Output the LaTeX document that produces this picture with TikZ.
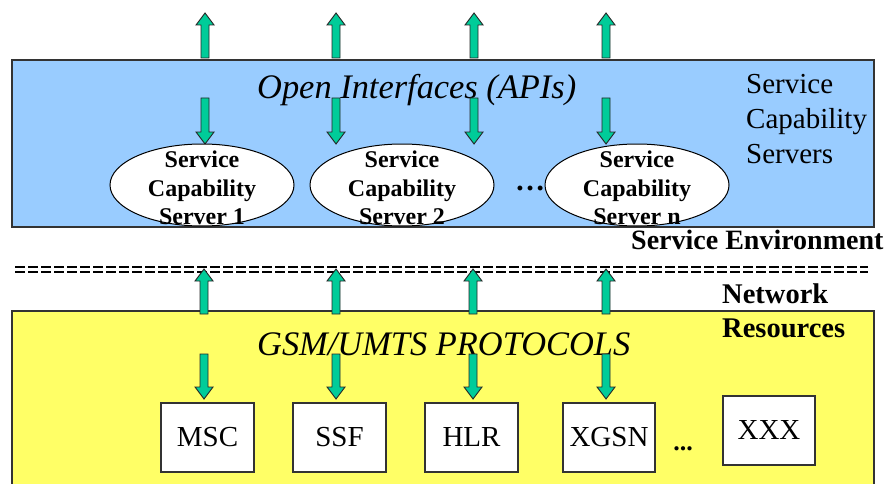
\documentclass[tikz,border=0pt]{standalone}
\usepackage{fontspec}
\setmainfont{Liberation Serif}
\usetikzlibrary{shapes.geometric}
\definecolor{apiblue}{HTML}{99CCFF}
\definecolor{netyellow}{HTML}{FFFF66}
\definecolor{arrgreen}{HTML}{00CC99}
\newcommand\bigarrow[3]{%
  \pgfmathsetmacro\hd{#3>#2 ? #3-12 : #3+12}%
  \filldraw[fatarrow] (#1-4,#2) -- (#1-4,\hd) -- (#1-9,\hd) -- (#1,#3) -- (#1+9,\hd) -- (#1+4,\hd) -- (#1+4,#2) -- cycle;}
\tikzset{
  fatarrow/.style={fill=arrgreen, draw=black!85, line width=0.9pt, line join=miter},
  layerbox/.style={draw=black!80, line width=1.4pt},
  srvell/.style={ellipse, draw=black, line width=1pt, fill=white, minimum width=184pt, minimum height=82pt, inner sep=0pt},
  srvtext/.style={align=center, font=\fontsize{24}{28.5}\selectfont\bfseries, inner sep=0pt},
  nebox/.style={draw=black!80, line width=1.2pt, fill=white, minimum width=93pt, minimum height=69pt, inner sep=0pt, font=\fontsize{29}{32}\selectfont},
  dashrow/.style={line width=2pt, dash pattern=on 10pt off 3pt},
  lbl/.style={inner sep=0pt, anchor=base west},
}
\begin{document}
\begin{tikzpicture}[x=1pt, y=-1pt]
\useasboundingbox (0,0) rectangle (896,484);
\clip (0,0) rectangle (896,484);
\fill[white] (0,0) rectangle (896,484);

% service layer
\draw[layerbox, fill=apiblue] (12,60) rectangle (874,227);
\node[lbl, font=\fontsize{34.4}{38}\selectfont\itshape] (api) at (257,99) {Open Interfaces (APIs)};
\node[lbl, align=left, font=\fontsize{29}{35}\selectfont] (scs) at (746,163) {Service\\Capability\\Servers};

\foreach \x in {205,336,474,606} {\bigarrow{\x}{58}{13}}
\foreach \x in {205,336,474,606} {\bigarrow{\x}{98}{144}}

\node[srvell] (e1) at (202,185) {};
\node[srvell] (e2) at (402,185) {};
\node[srvell] (en) at (637,185) {};
\node[srvtext] (t1) at (202,188) {Service\\Capability\\Server 1};
\node[srvtext] (t2) at (402,188) {Service\\Capability\\Server 2};
\node[srvtext] (tn) at (637,188) {Service\\Capability\\Server n};
\node[inner sep=0pt, font=\fontsize{30}{34}\selectfont\bfseries] (dots1) at (530,188) {\ldots};

\node[lbl, font=\fontsize{28}{32}\selectfont\bfseries] (senv) at (631,249) {Service Environment};

% separator
\draw[dashrow] (15,267) -- (868,267);
\draw[dashrow] (15,272) -- (868,272);

% network layer
\draw[layerbox, fill=netyellow] (12,311) rectangle (874,500);
\node[lbl, align=left, font=\fontsize{28.5}{34}\selectfont\bfseries] (nres) at (722,337) {Network\\Resources};
\node[lbl, font=\fontsize{34.4}{38}\selectfont\itshape] (gsm) at (257,355) {GSM/UMTS PROTOCOLS};

\foreach \x in {204,336,473,606} {\bigarrow{\x}{314}{269}}
\foreach \x in {204,336,473,606} {\bigarrow{\x}{354}{399}}

\node[nebox] (msc) at (207.5,437.5) {MSC};
\node[nebox] (ssf) at (339.5,437.5) {SSF};
\node[nebox] (hlr) at (471.5,437.5) {HLR};
\node[nebox, minimum width=92pt] (xgsn) at (609,437.5) {XGSN};
\node[nebox, minimum width=92pt] (xxx) at (769,430.5) {XXX};
\node[inner sep=0pt, font=\fontsize{26}{30}\selectfont\bfseries] (dots2) at (683,449) {...};
\end{tikzpicture}
\end{document}
